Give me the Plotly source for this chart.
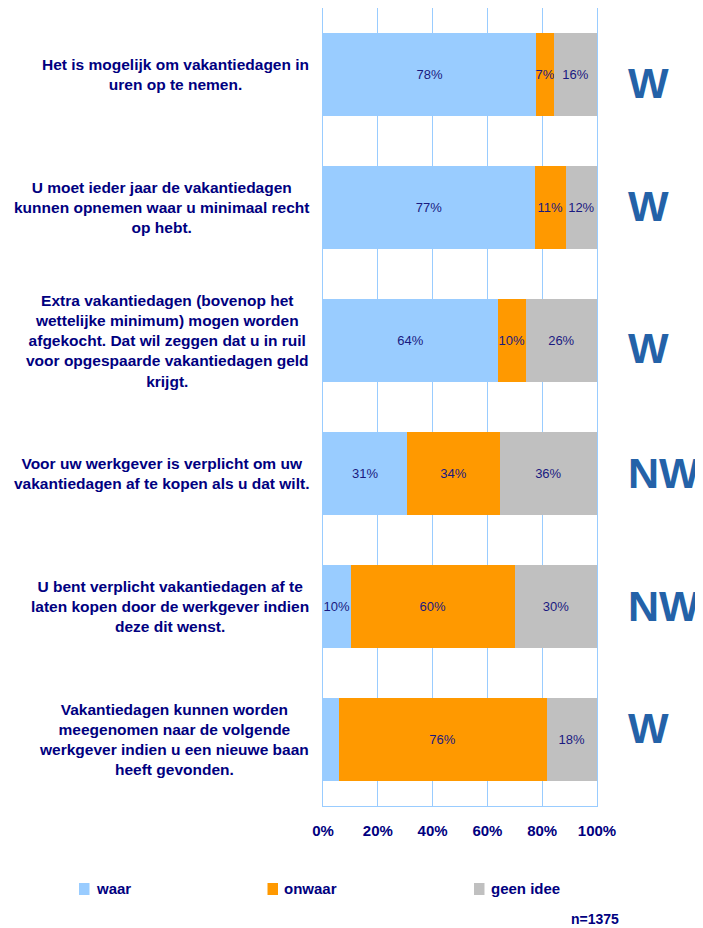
import plotly.graph_objects as go

categories = [
    "Het is mogelijk om vakantiedagen in<br>uren op te nemen.",
    "U moet ieder jaar de vakantiedagen<br>kunnen opnemen waar u minimaal recht<br>op hebt.",
    "Extra vakantiedagen (bovenop het<br>wettelijke minimum) mogen worden<br>afgekocht. Dat wil zeggen dat u in ruil<br>voor opgespaarde vakantiedagen geld<br>krijgt.",
    "Voor uw werkgever is verplicht om uw<br>vakantiedagen af te kopen als u dat wilt.",
    "U bent verplicht vakantiedagen af te<br>laten kopen door de werkgever indien<br>deze dit wenst.",
    "Vakantiedagen kunnen worden<br>meegenomen naar de volgende<br>werkgever indien u een nieuwe baan<br>heeft gevonden.",
]
waar = [77.9, 77.3, 63.8, 30.8, 10.1, 5.7]
onwaar = [6.4, 11.3, 10.2, 33.7, 59.9, 75.9]
geen_idee = [15.7, 11.4, 26.0, 35.5, 30.0, 18.4]
waar_labels = ["78%", "77%", "64%", "31%", "10%", ""]
onwaar_labels = ["7%", "11%", "10%", "34%", "60%", "76%"]
geen_labels = ["16%", "12%", "26%", "36%", "30%", "18%"]
verdict = ["W", "W", "W", "NW", "NW", "W"]
x_ticks = [0, 20, 40, 60, 80, 100]
x_tick_labels = ["0%", "20%", "40%", "60%", "80%", "100%"]
series_names = ["waar", "onwaar", "geen idee"]
n_text = "n=1375"

# styling
COLORS = ["#99CCFF", "#FF9900", "#C0C0C0"]
NAVY = "#000080"
FONT = "Liberation Sans, Arial, sans-serif"
OFF = 8  # page body margin
W, H = 703 - OFF, 928 - OFF
L, R, T, B = 323 - OFF, 597 - OFF, 0, 806 - OFF
verdict_shift = [-8, 2, -7, 1, 1, 12]


def px_x(p):
    return (p - OFF - L) / (R - L)


def px_y(p):
    return (B - (p - OFF)) / (B - T)


fig = go.Figure()
for name, vals, labs, col in zip(series_names, [waar, onwaar, geen_idee],
                                 [waar_labels, onwaar_labels, geen_labels], COLORS):
    fig.add_trace(go.Bar(
        y=categories, x=vals, name=name, orientation="h",
        marker=dict(color=col, line=dict(width=0)),
        text=labs, textposition="inside", insidetextanchor="middle",
        textangle=0, constraintext="none",
        textfont=dict(family=FONT, size=13, color="#1A1A80"),
        hoverinfo="skip", showlegend=False,
    ))

annotations = []
for cat, v, sh in zip(categories, verdict, verdict_shift):
    annotations.append(dict(
        x=px_x(311), xref="paper", y=cat, yref="y", text=cat,
        xanchor="right", yanchor="middle", align="center", showarrow=False,
        font=dict(family=FONT, size=15.5, color=NAVY, weight="bold"),
    ))
    annotations.append(dict(
        x=px_x(626), xref="paper", y=cat, yref="y", text=v, yshift=sh,
        xanchor="left", yanchor="middle", showarrow=False,
        font=dict(family=FONT, size=43, color="#2462A8", weight="bold"),
    ))

shapes = []
legend_pos = [(79, 94), (267.5, 282), (474, 488.5)]
for name, col, (sx, tx) in zip(series_names, COLORS, legend_pos):
    shapes.append(dict(type="rect", xref="paper", yref="paper",
                       x0=px_x(sx), x1=px_x(sx + 10.5),
                       y0=px_y(895), y1=px_y(883),
                       fillcolor=col, line=dict(width=0)))
    annotations.append(dict(
        x=px_x(tx), xref="paper", y=px_y(888), yref="paper", text=name,
        xanchor="left", yanchor="middle", showarrow=False,
        font=dict(family=FONT, size=15, color=NAVY, weight="bold"),
    ))
annotations.append(dict(
    x=px_x(621), xref="paper", y=px_y(919), yref="paper", text=n_text,
    xanchor="right", yanchor="middle", showarrow=False,
    font=dict(family=FONT, size=14, color=NAVY, weight="bold"),
))

fig.update_layout(
    barmode="stack", bargap=0.37,
    width=W, height=H,
    margin=dict(l=L, r=W - R, t=T, b=H - B, pad=0),
    paper_bgcolor="white", plot_bgcolor="white",
    showlegend=False,
    annotations=annotations, shapes=shapes,
    xaxis=dict(
        range=[0, 100], tickmode="array", tickvals=x_ticks, ticktext=x_tick_labels,
        showgrid=True, gridcolor="#99CCFF", gridwidth=1,
        showline=True, linecolor="#99CCFF", linewidth=1, mirror=True,
        zeroline=False, ticks="", ticklabelstandoff=11,
        tickfont=dict(family=FONT, size=15, color=NAVY, weight="bold"),
    ),
    yaxis=dict(
        autorange="reversed", showticklabels=False, showgrid=False,
        showline=True, linecolor="#99CCFF", linewidth=1, mirror=True,
        ticks="",
    ),
)

fig.write_html("out.html")
